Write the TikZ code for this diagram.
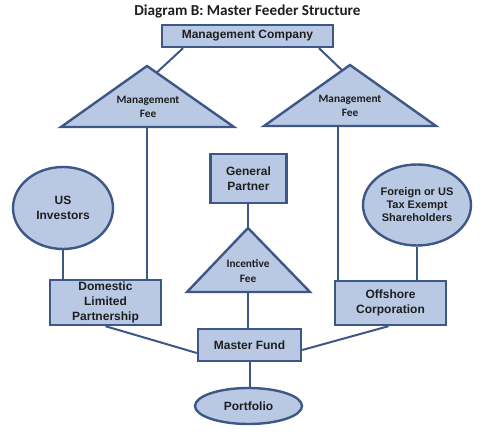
\documentclass[tikz,border=0pt]{standalone}
\usepackage{fontspec}
\setmainfont{Liberation Sans}
\newfontfamily\calib{Carlito}
\usepackage{xcolor}
\usetikzlibrary{shapes.geometric,calc}
\definecolor{boxfill}{HTML}{B9C9E4}
\definecolor{boxline}{HTML}{3D5887}
\definecolor{inkgray}{HTML}{1E1E1E}

\begin{document}
\begin{tikzpicture}[x=1pt,y=-1pt,
  box/.style={draw=boxline,fill=boxfill,line width=2.4pt,inner sep=0pt,align=center,text=inkgray,
    font=\bfseries\fontsize{12}{15}\selectfont},
  oval/.style={box,ellipse},
  tri/.style={draw=boxline,fill=boxfill,line width=2.4pt,line join=miter},
  trilabel/.style={align=center,text=inkgray,font=\calib\bfseries\fontsize{11.3}{14.5}\selectfont},
  conn/.style={draw=boxline,line width=2pt}]
\useasboundingbox (0,0) rectangle (488,438);

\node[text=inkgray,font=\calib\bfseries\fontsize{15.2}{18}\selectfont] (title) at (247.5,11) {Diagram B: Master Feeder Structure};

\node[box,minimum width=171,minimum height=22] (mc) at (247.5,36) {Management Company};

\coordinate (tlA) at (147,66);
\coordinate (tlL) at (61,127);
\coordinate (tlR) at (234,127);
\coordinate (trA) at (350,65);
\coordinate (trL) at (264,126);
\coordinate (trR) at (436,126);
\coordinate (tiA) at (248,228);
\coordinate (tiL) at (187,292);
\coordinate (tiR) at (310,292);

\draw[tri] (tlA) -- (tlL) -- (tlR) -- cycle;
\draw[tri] (trA) -- (trL) -- (trR) -- cycle;
\draw[tri] (tiA) -- (tiL) -- (tiR) -- cycle;

\node[trilabel] (mfeel) at (148,107) {Management\\Fee};
\node[trilabel] (mfeer) at (350,106) {Management\\Fee};
\node[trilabel] (ifee) at (248,271) {Incentive\\Fee};

\coordinate (tlB) at (147,127);
\coordinate (trB) at (338,126);
\coordinate (tiB) at (248,292);

\node[box,minimum width=76,minimum height=49] (gp) at (248.5,178.5) {General\\Partner};
\node[oval,minimum width=100,minimum height=82] (usi) at (63,208) {US\\Investors};
\node[oval,minimum width=108,minimum height=81,font=\bfseries\fontsize{11}{13}\selectfont] (fsh) at (417,205) {Foreign or US\\Tax Exempt\\Shareholders};
\node[box,minimum width=111,minimum height=45] (dlp) at (105.5,302.5) {Domestic\\Limited\\Partnership};
\node[box,minimum width=111,minimum height=44] (oc) at (390.5,303) {Offshore\\Corporation};
\node[box,minimum width=103,minimum height=32] (mf) at (249.5,345) {Master Fund};
\node[oval,minimum width=107,minimum height=36] (pf) at (248.5,406) {Portfolio};

\draw[conn] ([xshift=-64.5]mc.south) -- ($(tlA)!0.11!(tlR)$);
\draw[conn] ([xshift=71.5]mc.south) -- ($(trA)!0.09!(trL)$);
\draw[conn] (tlB) -- (tlB |- dlp.north);
\draw[conn] (trB) -- (trB |- oc.north);
\draw[conn] (usi.south) -- (usi.south |- dlp.north);
\draw[conn] (fsh.south) -- (fsh.south |- oc.north);
\draw[conn] (tiA |- gp.south) -- (tiA);
\draw[conn] (tiB) -- (tiB |- mf.north);
\draw[conn] (dlp.south) -- ([yshift=-8]mf.west);
\draw[conn] ([xshift=-2]oc.south) -- ([yshift=-5]mf.east);
\draw[conn] (mf.south) -- (mf.south |- pf.north);
\end{tikzpicture}
\end{document}
